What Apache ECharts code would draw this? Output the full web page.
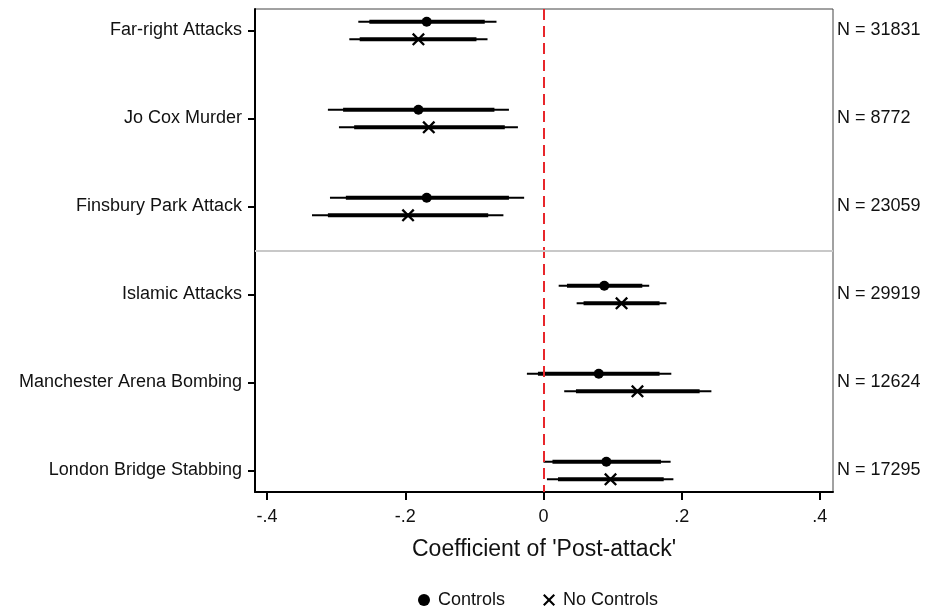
<!DOCTYPE html>
<html>
<head>
<meta charset="utf-8">
<script src="https://cdn.jsdelivr.net/npm/echarts@6/dist/echarts.min.js"></script>
<style>
  html, body { margin: 0; padding: 0; background: #fff; }
  #chart { width: 926px; height: 609px; }
</style>
</head>
<body>
<div id="chart"></div>
<script>
const categories = ['Far-right Attacks', 'Jo Cox Murder', 'Finsbury Park Attack', 'Islamic Attacks', 'Manchester Arena Bombing', 'London Bridge Stabbing']
const sampleSizes = [31831, 8772, 23059, 29919, 12624, 17295]
const xTicks = [-0.4, -0.2, 0, 0.2, 0.4]

// Controls: estimate, 90% and 95% intervals
const ctrlEst = [-0.169, -0.181, -0.169, 0.088, 0.080, 0.091]
const ctrlLo90 = [-0.252, -0.290, -0.286, 0.034, -0.008, 0.013]
const ctrlHi90 = [-0.085, -0.071, -0.050, 0.143, 0.168, 0.170]
const ctrlLo95 = [-0.268, -0.312, -0.309, 0.022, -0.024, 0.000]
const ctrlHi95 = [-0.068, -0.050, -0.028, 0.153, 0.185, 0.184]

// No Controls
const noCtrlEst = [-0.181, -0.166, -0.196, 0.113, 0.136, 0.097]
const noCtrlLo90 = [-0.266, -0.274, -0.312, 0.058, 0.047, 0.021]
const noCtrlHi90 = [-0.097, -0.056, -0.080, 0.168, 0.226, 0.174]
const noCtrlLo95 = [-0.281, -0.296, -0.335, 0.048, 0.030, 0.005]
const noCtrlHi95 = [-0.081, -0.037, -0.058, 0.178, 0.243, 0.188]

const FONT = 'Liberation Sans, Arial, sans-serif'
const ROW_SHIFT = 0.1
const rows = categories.map((_, i) => i + 1)
const crossPath = 'path://M0,1.5 L1.5,0 L6,4.5 L10.5,0 L12,1.5 L7.5,6 L12,10.5 L10.5,12 L6,7.5 L1.5,12 L0,10.5 L4.5,6 Z'

const ciData = (lo95, lo90, hi90, hi95, shift) =>
    rows.map((r, i) => [r + shift, lo95[i], lo90[i], hi90[i], hi95[i]])

const renderCI = (params, api) => {
    const y = api.value(0)
    const a = api.coord([api.value(1), y])
    const b = api.coord([api.value(4), y])
    const c = api.coord([api.value(2), y])
    const d = api.coord([api.value(3), y])
    return {
        type: 'group',
        children: [
            { type: 'line', shape: { x1: a[0], y1: a[1], x2: b[0], y2: b[1] }, style: { stroke: '#000', lineWidth: 2 } },
            { type: 'line', shape: { x1: c[0], y1: c[1], x2: d[0], y2: d[1] }, style: { stroke: '#000', lineWidth: 4 } }
        ]
    }
}

const chart = echarts.init(document.getElementById('chart'))
chart.setOption({
    animation: false,
    textStyle: { fontFamily: FONT },
    grid: { left: 255, right: 93, top: 9, bottom: 117, show: true, borderColor: '#444', borderWidth: 1 },
    legend: {
        top: 586,
        left: 413,
        itemGap: 38,
        textStyle: { fontSize: 18, color: '#111', fontFamily: FONT, padding: [0, 0, 0, 3] },
        data: [
            { name: 'Controls', icon: 'circle', itemStyle: { color: '#000' }, itemWidth: 10, itemHeight: 10 },
            { name: 'No Controls', icon: crossPath, itemStyle: { color: '#000' } }
        ],
        itemWidth: 12,
        itemHeight: 12,
        selectedMode: false
    },
    xAxis: {
        type: 'value',
        min: -0.4175,
        max: 0.419,
        name: "Coefficient of 'Post-attack'",
        nameLocation: 'middle',
        nameGap: 46,
        nameTextStyle: { fontSize: 23, color: '#111', fontFamily: FONT },
        splitLine: { show: false },
        axisLine: { onZero: false, lineStyle: { color: '#000', width: 2 } },
        axisTick: { customValues: xTicks, length: 8, lineStyle: { color: '#000', width: 2 } },
        axisLabel: {
            customValues: xTicks,
            fontSize: 18,
            color: '#111',
            margin: 16,
            formatter: v => v === 0 ? '0' : (v < 0 ? '-' : '') + String(Math.abs(v)).replace(/^0/, '')
        }
    },
    yAxis: [{
        type: 'value',
        inverse: true,
        min: 0.756,
        max: 6.244,
        splitLine: { show: false },
        axisLine: { onZero: false, lineStyle: { color: '#000', width: 2 } },
        axisTick: { customValues: rows, length: 7, lineStyle: { color: '#000', width: 2 } },
        axisLabel: {
            customValues: rows,
            fontSize: 18,
            color: '#111',
            margin: 13,
            formatter: v => categories[Math.round(v) - 1] || ''
        }
    }, {
        type: 'value',
        position: 'right',
        inverse: true,
        min: 0.756,
        max: 6.244,
        splitLine: { show: false },
        axisLine: { show: false, onZero: false },
        axisTick: { show: false },
        axisLabel: {
            customValues: rows,
            fontSize: 18,
            color: '#111',
            margin: 4,
            align: 'left',
            formatter: v => 'N = ' + (sampleSizes[Math.round(v) - 1] || '')
        }
    }],
    series: [
        {
            name: 'refs',
            type: 'scatter',
            data: [],
            z: 1,
            markLine: {
                silent: true,
                symbol: 'none',
                label: { show: false },
                data: [
                    { xAxis: 0, lineStyle: { color: '#e8262b', type: [11, 6], width: 2 } },
                    { yAxis: 3.5, lineStyle: { color: '#c8c8c8', type: 'solid', width: 2 } }
                ]
            }
        },
        {
            name: 'ciControls',
            type: 'custom',
            z: 3,
            renderItem: renderCI,
            encode: { x: [1, 2, 3, 4], y: 0 },
            data: ciData(ctrlLo95, ctrlLo90, ctrlHi90, ctrlHi95, -ROW_SHIFT)
        },
        {
            name: 'ciNoControls',
            type: 'custom',
            z: 3,
            renderItem: renderCI,
            encode: { x: [1, 2, 3, 4], y: 0 },
            data: ciData(noCtrlLo95, noCtrlLo90, noCtrlHi90, noCtrlHi95, ROW_SHIFT)
        },
        {
            name: 'Controls',
            type: 'scatter',
            z: 4,
            symbol: 'circle',
            symbolSize: 10,
            itemStyle: { color: '#000', opacity: 1 },
            data: ctrlEst.map((v, i) => [v, rows[i] - ROW_SHIFT])
        },
        {
            name: 'No Controls',
            type: 'scatter',
            z: 4,
            symbol: crossPath,
            symbolSize: 13,
            itemStyle: { color: '#000', opacity: 1 },
            data: noCtrlEst.map((v, i) => [v, rows[i] + ROW_SHIFT])
        }
    ]
})
</script>
</body>
</html>
